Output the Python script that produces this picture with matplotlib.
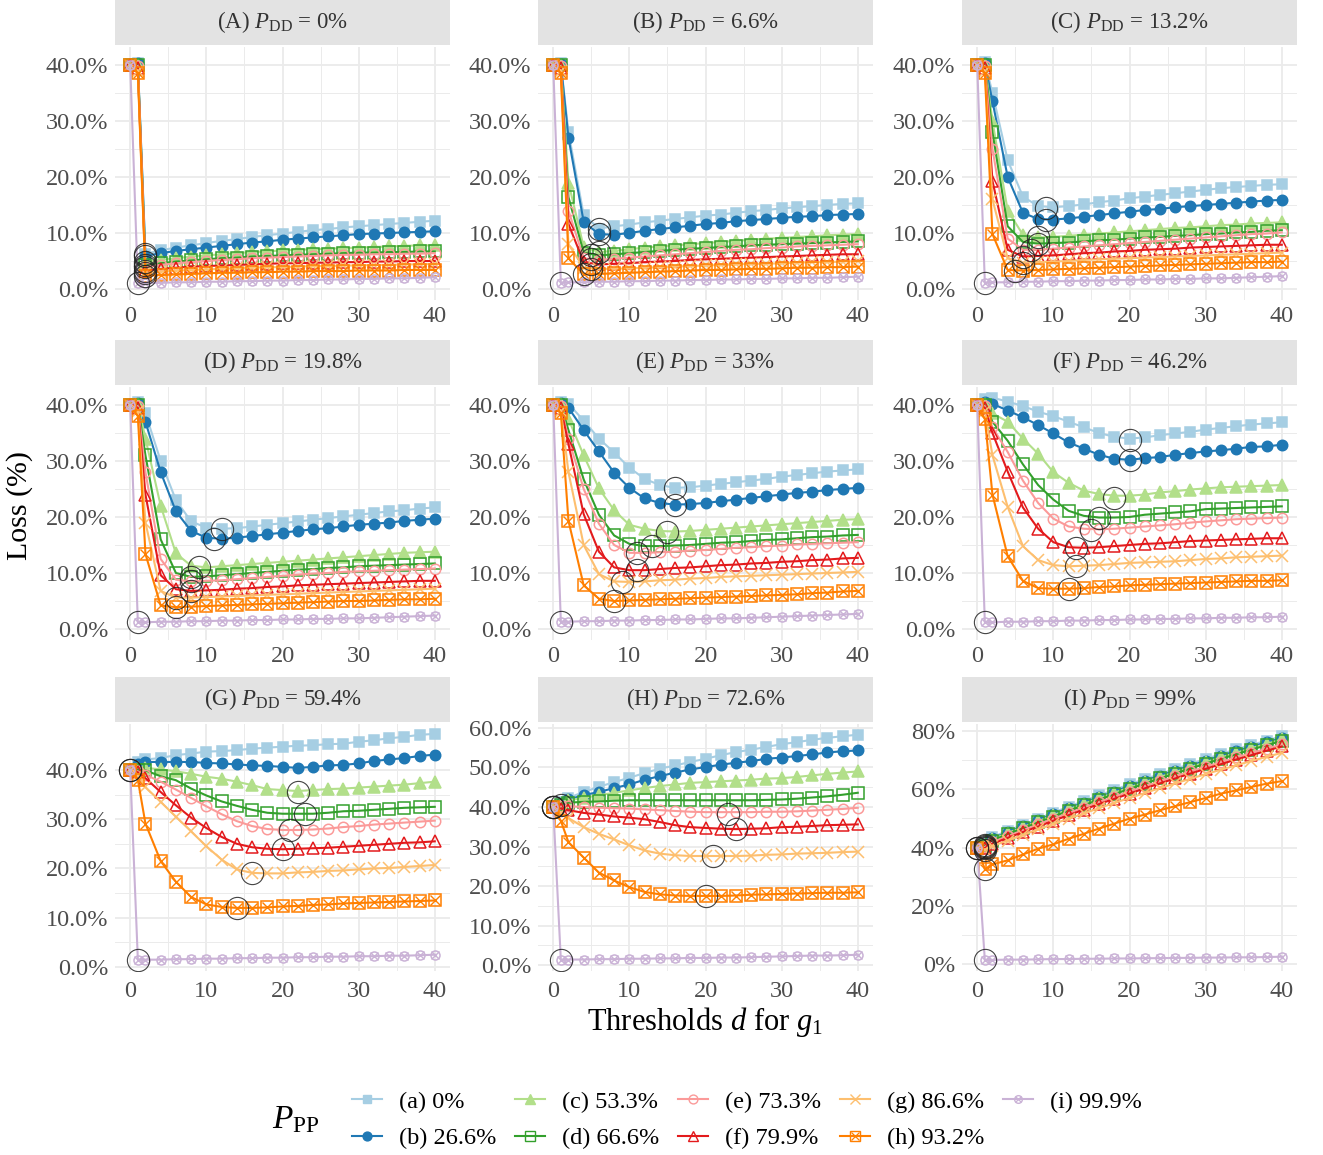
import numpy as np
import matplotlib
matplotlib.use('Agg')
import matplotlib.pyplot as plt
from matplotlib.lines import Line2D
from matplotlib.legend_handler import HandlerTuple

plt.rcParams['font.family'] = 'Liberation Serif'
plt.rcParams['mathtext.fontset'] = 'custom'
plt.rcParams['mathtext.rm'] = 'Liberation Serif'
plt.rcParams['mathtext.it'] = 'Liberation Serif:italic'

# thresholds d where the loss is reported
d_grid = [0, 1, 2, 4, 6, 8, 10, 12, 14, 16, 18, 20, 22, 24, 26, 28, 30, 32, 34, 36, 38, 40]

panel_tags = ['(A)', '(B)', '(C)', '(D)', '(E)', '(F)', '(G)', '(H)', '(I)']
pdd_values = ['0%', '6.6%', '13.2%', '19.8%', '33%', '46.2%', '59.4%', '72.6%', '99%']
ppp_labels = ['(a) 0%', '(b) 26.6%', '(c) 53.3%', '(d) 66.6%', '(e) 73.3%',
              '(f) 79.9%', '(g) 86.6%', '(h) 93.2%', '(i) 99.9%']

# loss (%) per P_PP series (a..i), one block per P_DD panel
loss_A = [
    [40, 40.3, 6.3, 6.9, 7.4, 7.8, 8.2, 8.6, 8.9, 9.3, 9.6, 9.9, 10.2, 10.5, 10.7, 11.0, 11.2, 11.4, 11.6, 11.8, 12.0, 12.2],
    [40, 40.3, 5.9, 6.4, 6.8, 7.1, 7.4, 7.7, 8.0, 8.3, 8.5, 8.8, 9.0, 9.2, 9.4, 9.6, 9.8, 9.9, 10.0, 10.1, 10.2, 10.3],
    [40, 40.0, 4.8, 5.2, 5.5, 5.8, 6.0, 6.2, 6.4, 6.6, 6.7, 6.9, 7.0, 7.1, 7.2, 7.3, 7.4, 7.5, 7.6, 7.7, 7.8, 7.8],
    [40, 40.0, 4.2, 4.6, 4.9, 5.1, 5.3, 5.5, 5.6, 5.8, 5.9, 6.0, 6.1, 6.2, 6.3, 6.4, 6.5, 6.5, 6.6, 6.6, 6.7, 6.7],
    [40, 39.8, 3.9, 4.3, 4.6, 4.8, 5.0, 5.2, 5.3, 5.5, 5.6, 5.7, 5.8, 5.9, 6.0, 6.1, 6.1, 6.2, 6.2, 6.3, 6.3, 6.4],
    [40, 39.5, 3.3, 3.6, 3.8, 4.0, 4.1, 4.2, 4.3, 4.4, 4.5, 4.6, 4.6, 4.7, 4.7, 4.8, 4.8, 4.9, 4.9, 5.0, 5.0, 5.0],
    [40, 39.0, 2.9, 3.1, 3.3, 3.4, 3.5, 3.6, 3.7, 3.8, 3.9, 3.9, 4.0, 4.1, 4.1, 4.2, 4.2, 4.3, 4.3, 4.4, 4.4, 4.5],
    [40, 38.5, 2.4, 2.5, 2.6, 2.7, 2.8, 2.9, 2.9, 3.0, 3.0, 3.1, 3.1, 3.2, 3.2, 3.2, 3.3, 3.3, 3.3, 3.4, 3.4, 3.4],
    [40, 1.0, 1.1, 1.1, 1.2, 1.2, 1.3, 1.3, 1.4, 1.4, 1.5, 1.5, 1.6, 1.6, 1.7, 1.7, 1.8, 1.8, 1.9, 1.9, 2.0, 2.1],
]
loss_B = [
    [40, 40.3, 28.0, 13.2, 10.8, 11.2, 11.5, 11.9, 12.2, 12.5, 12.8, 13.1, 13.3, 13.6, 13.9, 14.1, 14.4, 14.6, 14.8, 15.0, 15.2, 15.3],
    [40, 40.2, 27.0, 12.0, 9.8, 9.7, 10.0, 10.4, 10.7, 11.0, 11.3, 11.6, 11.8, 12.1, 12.3, 12.5, 12.7, 12.9, 13.0, 13.2, 13.3, 13.4],
    [40, 40.0, 19.0, 7.5, 6.6, 6.8, 7.1, 7.4, 7.6, 7.8, 8.0, 8.2, 8.4, 8.6, 8.8, 9.0, 9.1, 9.3, 9.4, 9.6, 9.7, 9.8],
    [40, 40.0, 16.4, 6.5, 6.0, 6.2, 6.4, 6.6, 6.8, 7.0, 7.2, 7.3, 7.5, 7.6, 7.8, 7.9, 8.0, 8.1, 8.2, 8.3, 8.4, 8.5],
    [40, 39.8, 14.0, 5.5, 5.2, 5.4, 5.6, 5.8, 6.0, 6.2, 6.4, 6.6, 6.8, 7.0, 7.1, 7.3, 7.4, 7.6, 7.7, 7.8, 7.9, 8.0],
    [40, 39.5, 11.6, 4.8, 4.4, 4.5, 4.6, 4.8, 4.9, 5.0, 5.2, 5.3, 5.4, 5.5, 5.6, 5.7, 5.8, 5.9, 6.0, 6.1, 6.2, 6.2],
    [40, 39.0, 8.0, 3.8, 3.6, 3.6, 3.7, 3.8, 3.9, 4.0, 4.1, 4.2, 4.3, 4.4, 4.5, 4.5, 4.6, 4.7, 4.8, 4.8, 4.9, 5.0],
    [40, 38.5, 5.5, 2.6, 2.7, 2.8, 2.9, 3.0, 3.1, 3.2, 3.3, 3.4, 3.4, 3.5, 3.6, 3.6, 3.7, 3.8, 3.8, 3.9, 3.9, 4.0],
    [40, 1.1, 1.2, 1.2, 1.3, 1.3, 1.4, 1.4, 1.5, 1.5, 1.6, 1.6, 1.7, 1.7, 1.8, 1.8, 1.9, 1.9, 2.0, 2.0, 2.1, 2.2],
]
loss_C = [
    [40, 40.5, 35.0, 23.0, 16.5, 14.8, 14.6, 14.8, 15.1, 15.5, 15.8, 16.2, 16.5, 16.8, 17.1, 17.4, 17.7, 18.0, 18.2, 18.4, 18.6, 18.7],
    [40, 40.3, 33.5, 20.0, 13.6, 12.5, 12.4, 12.6, 12.9, 13.2, 13.5, 13.8, 14.1, 14.3, 14.6, 14.8, 15.0, 15.2, 15.4, 15.6, 15.8, 15.9],
    [40, 40.0, 30.0, 14.0, 9.7, 9.2, 9.3, 9.5, 9.7, 9.9, 10.1, 10.3, 10.5, 10.7, 10.9, 11.0, 11.2, 11.4, 11.5, 11.7, 11.8, 11.9],
    [40, 40.0, 28.0, 11.2, 8.4, 8.1, 8.2, 8.3, 8.5, 8.7, 8.8, 9.0, 9.2, 9.3, 9.5, 9.6, 9.8, 9.9, 10.1, 10.2, 10.4, 10.5],
    [40, 39.8, 25.0, 9.0, 7.0, 7.0, 7.2, 7.4, 7.6, 7.8, 8.0, 8.2, 8.4, 8.6, 8.8, 9.0, 9.2, 9.4, 9.6, 9.8, 9.9, 10.1],
    [40, 39.5, 19.3, 7.0, 5.8, 5.9, 6.0, 6.2, 6.4, 6.5, 6.7, 6.8, 7.0, 7.1, 7.2, 7.4, 7.5, 7.6, 7.7, 7.8, 7.9, 7.9],
    [40, 39.0, 16.0, 5.5, 4.7, 4.8, 4.9, 5.0, 5.2, 5.3, 5.4, 5.5, 5.6, 5.7, 5.8, 5.9, 6.0, 6.1, 6.2, 6.3, 6.4, 6.5],
    [40, 38.5, 9.8, 3.4, 3.3, 3.4, 3.5, 3.6, 3.7, 3.8, 3.9, 4.0, 4.1, 4.2, 4.3, 4.4, 4.5, 4.6, 4.7, 4.8, 4.8, 4.9],
    [40, 1.1, 1.2, 1.2, 1.3, 1.3, 1.4, 1.4, 1.5, 1.5, 1.6, 1.6, 1.7, 1.7, 1.8, 1.8, 1.9, 1.9, 2.0, 2.1, 2.2, 2.3],
]
loss_D = [
    [40, 40.5, 38.5, 30.0, 23.0, 19.2, 18.1, 17.9, 18.0, 18.3, 18.6, 18.9, 19.2, 19.5, 19.8, 20.1, 20.4, 20.7, 21.0, 21.2, 21.5, 21.7],
    [40, 40.4, 37.0, 28.0, 21.0, 17.5, 16.3, 16.1, 16.3, 16.6, 16.9, 17.2, 17.5, 17.8, 18.0, 18.3, 18.6, 18.8, 19.0, 19.3, 19.5, 19.7],
    [40, 40.2, 34.0, 22.0, 13.5, 11.3, 11.0, 11.2, 11.4, 11.6, 11.8, 12.0, 12.2, 12.4, 12.6, 12.8, 13.0, 13.2, 13.4, 13.6, 13.7, 13.8],
    [40, 40.0, 31.0, 16.0, 10.0, 9.3, 9.4, 9.6, 9.8, 10.0, 10.2, 10.4, 10.6, 10.7, 10.9, 11.0, 11.2, 11.3, 11.4, 11.5, 11.6, 11.7],
    [40, 39.8, 28.0, 12.5, 8.8, 8.5, 8.6, 8.7, 8.9, 9.1, 9.3, 9.5, 9.7, 9.9, 10.0, 10.2, 10.3, 10.4, 10.5, 10.6, 10.7, 10.8],
    [40, 39.5, 24.0, 9.6, 7.1, 6.8, 6.9, 7.0, 7.2, 7.3, 7.5, 7.6, 7.8, 7.9, 8.0, 8.1, 8.2, 8.3, 8.4, 8.5, 8.6, 8.6],
    [40, 39.0, 19.0, 6.8, 5.6, 5.6, 5.7, 5.8, 5.9, 6.0, 6.1, 6.2, 6.3, 6.4, 6.5, 6.6, 6.7, 6.8, 6.9, 7.0, 7.1, 7.2],
    [40, 38.0, 13.4, 4.2, 3.9, 4.0, 4.1, 4.2, 4.3, 4.4, 4.5, 4.6, 4.7, 4.8, 4.9, 5.0, 5.0, 5.1, 5.2, 5.3, 5.3, 5.4],
    [40, 1.2, 1.2, 1.3, 1.3, 1.4, 1.4, 1.5, 1.5, 1.6, 1.6, 1.7, 1.7, 1.8, 1.8, 1.9, 1.9, 2.0, 2.1, 2.2, 2.3, 2.4],
]
loss_E = [
    [40, 40.5, 40.2, 37.2, 34.0, 31.5, 28.8, 26.8, 25.7, 25.2, 25.3, 25.6, 25.9, 26.2, 26.5, 26.8, 27.2, 27.5, 27.8, 28.1, 28.3, 28.5],
    [40, 40.4, 39.5, 35.5, 31.7, 27.9, 25.2, 23.3, 22.5, 22.2, 22.3, 22.5, 22.8, 23.1, 23.4, 23.7, 24.0, 24.3, 24.5, 24.8, 25.0, 25.2],
    [40, 40.2, 37.5, 31.0, 25.1, 21.2, 18.6, 17.9, 17.5, 17.4, 17.5, 17.7, 17.9, 18.1, 18.3, 18.5, 18.7, 18.9, 19.1, 19.3, 19.5, 19.6],
    [40, 40.0, 35.5, 26.7, 20.4, 16.7, 15.2, 14.8, 14.8, 14.9, 15.0, 15.2, 15.4, 15.5, 15.7, 15.9, 16.0, 16.2, 16.4, 16.5, 16.7, 16.8],
    [40, 39.8, 34.0, 25.0, 18.8, 15.0, 13.6, 13.6, 13.7, 13.8, 14.0, 14.1, 14.3, 14.5, 14.6, 14.8, 14.9, 15.1, 15.2, 15.3, 15.4, 15.5],
    [40, 39.5, 33.0, 20.5, 13.8, 11.0, 10.5, 10.5, 10.7, 10.9, 11.0, 11.2, 11.4, 11.5, 11.7, 11.8, 12.0, 12.1, 12.3, 12.4, 12.6, 12.7],
    [40, 39.0, 28.0, 15.0, 9.8, 8.5, 8.4, 8.5, 8.7, 8.8, 9.0, 9.1, 9.3, 9.4, 9.5, 9.6, 9.7, 9.8, 9.9, 10.0, 10.1, 10.2],
    [40, 38.5, 19.3, 7.8, 5.4, 5.0, 5.1, 5.2, 5.3, 5.4, 5.5, 5.6, 5.7, 5.8, 5.9, 6.0, 6.1, 6.2, 6.4, 6.5, 6.7, 6.8],
    [40, 1.3, 1.3, 1.4, 1.4, 1.5, 1.5, 1.6, 1.6, 1.7, 1.7, 1.8, 1.9, 1.9, 2.0, 2.1, 2.2, 2.3, 2.4, 2.5, 2.6, 2.7],
]
loss_F = [
    [40, 41.0, 41.3, 40.6, 39.8, 38.8, 38.0, 37.0, 36.0, 35.0, 34.3, 34.0, 34.2, 34.6, 34.9, 35.2, 35.6, 35.9, 36.2, 36.5, 36.7, 36.9],
    [40, 40.5, 40.2, 39.0, 37.8, 36.4, 34.9, 33.3, 32.2, 31.1, 30.4, 30.2, 30.5, 30.7, 31.1, 31.4, 31.7, 31.9, 32.2, 32.5, 32.6, 32.9],
    [40, 40.2, 38.5, 37.0, 34.0, 31.3, 28.0, 26.1, 24.7, 24.1, 23.8, 23.8, 24.0, 24.4, 24.6, 24.9, 25.1, 25.3, 25.4, 25.5, 25.6, 25.7],
    [40, 40.0, 37.0, 33.6, 29.4, 25.7, 23.1, 21.1, 20.2, 19.9, 19.9, 20.0, 20.4, 20.6, 20.8, 21.0, 21.4, 21.5, 21.6, 21.7, 21.8, 21.9],
    [40, 39.8, 36.0, 31.6, 26.5, 22.5, 19.7, 18.3, 17.9, 17.8, 17.9, 18.1, 18.3, 18.5, 18.7, 19.0, 19.2, 19.4, 19.6, 19.7, 19.8, 19.9],
    [40, 39.5, 35.0, 28.1, 21.7, 17.9, 15.5, 14.6, 14.5, 14.6, 14.8, 15.0, 15.2, 15.3, 15.5, 15.7, 15.8, 15.9, 16.0, 16.1, 16.2, 16.2],
    [40, 39.0, 31.0, 21.8, 14.8, 12.3, 11.4, 11.2, 11.3, 11.4, 11.6, 11.8, 11.9, 12.0, 12.1, 12.3, 12.5, 12.6, 12.8, 12.9, 13.0, 13.1],
    [40, 37.5, 24.0, 13.0, 8.6, 7.3, 7.2, 7.2, 7.3, 7.5, 7.6, 7.8, 7.9, 8.0, 8.1, 8.2, 8.3, 8.4, 8.5, 8.6, 8.6, 8.7],
    [40, 1.2, 1.2, 1.3, 1.3, 1.4, 1.4, 1.5, 1.5, 1.6, 1.6, 1.7, 1.7, 1.8, 1.8, 1.9, 1.9, 2.0, 2.0, 2.1, 2.1, 2.2],
]
loss_G = [
    [40, 41.5, 42.1, 42.4, 43.0, 43.3, 43.7, 43.8, 44.0, 44.3, 44.5, 44.7, 44.9, 45.0, 45.2, 45.3, 45.7, 46.0, 46.4, 46.7, 47.1, 47.3],
    [40, 41.2, 41.6, 41.6, 41.6, 41.6, 41.4, 41.3, 41.1, 40.9, 40.8, 40.6, 40.4, 40.6, 40.9, 41.0, 41.3, 41.8, 42.1, 42.4, 42.8, 43.1],
    [40, 40.3, 40.4, 40.1, 39.7, 39.2, 38.6, 38.2, 37.6, 36.9, 36.1, 35.9, 35.7, 35.9, 36.1, 36.2, 36.4, 36.6, 36.8, 37.0, 37.3, 37.6],
    [40, 40.0, 39.9, 38.7, 37.9, 36.2, 34.8, 33.6, 32.7, 31.9, 31.3, 31.1, 31.1, 31.1, 31.3, 31.6, 31.7, 31.9, 32.1, 32.3, 32.4, 32.5],
    [40, 39.7, 39.0, 37.6, 36.0, 34.3, 32.6, 31.0, 29.6, 28.6, 28.0, 27.8, 27.8, 27.9, 28.1, 28.4, 28.6, 28.9, 29.1, 29.3, 29.5, 29.7],
    [40, 39.5, 38.3, 35.5, 32.8, 30.3, 28.2, 26.4, 25.0, 24.3, 24.0, 23.9, 24.0, 24.1, 24.2, 24.4, 24.6, 24.8, 25.0, 25.2, 25.3, 25.5],
    [40, 39.0, 36.5, 33.5, 30.5, 27.5, 24.5, 21.8, 19.8, 19.1, 19.0, 19.0, 19.2, 19.3, 19.5, 19.6, 19.8, 20.0, 20.1, 20.3, 20.5, 20.7],
    [40, 38.0, 29.1, 21.5, 17.3, 14.2, 12.7, 12.2, 12.0, 12.0, 12.1, 12.3, 12.4, 12.6, 12.7, 12.9, 13.0, 13.1, 13.2, 13.3, 13.4, 13.5],
    [40, 1.5, 1.5, 1.5, 1.6, 1.6, 1.7, 1.7, 1.8, 1.8, 1.9, 1.9, 2.0, 2.0, 2.1, 2.1, 2.2, 2.2, 2.3, 2.3, 2.4, 2.5],
]
loss_H = [
    [40, 41.2, 42.3, 43.8, 45.1, 46.3, 47.4, 48.6, 49.7, 50.5, 51.4, 52.2, 53.1, 53.9, 54.5, 55.2, 55.9, 56.4, 57.0, 57.5, 57.9, 58.3],
    [40, 41.0, 41.9, 43.0, 43.8, 44.8, 45.7, 46.9, 47.8, 48.7, 49.5, 50.1, 50.7, 51.2, 51.6, 52.2, 52.5, 52.9, 53.3, 53.8, 54.1, 54.3],
    [40, 40.8, 41.7, 42.3, 43.0, 43.6, 44.2, 44.8, 45.3, 45.7, 46.1, 46.3, 46.5, 46.7, 46.9, 47.2, 47.3, 47.6, 48.0, 48.4, 48.7, 49.0],
    [40, 40.5, 41.1, 41.3, 41.4, 41.6, 41.7, 41.7, 41.7, 41.7, 41.7, 41.7, 41.7, 41.7, 41.7, 41.8, 41.9, 42.1, 42.4, 42.7, 43.1, 43.6],
    [40, 40.2, 40.2, 40.0, 39.8, 39.7, 39.6, 39.4, 39.2, 39.0, 38.8, 38.7, 38.7, 38.7, 38.7, 38.8, 38.8, 38.9, 39.1, 39.3, 39.5, 39.8],
    [40, 39.6, 39.2, 38.5, 38.1, 37.6, 37.3, 36.9, 36.2, 35.4, 34.9, 34.7, 34.5, 34.4, 34.5, 34.6, 34.9, 35.0, 35.2, 35.4, 35.5, 35.6],
    [40, 38.5, 37.2, 34.9, 33.2, 31.8, 30.3, 29.0, 28.2, 27.8, 27.6, 27.6, 27.6, 27.6, 27.7, 27.9, 28.0, 28.2, 28.3, 28.4, 28.6, 28.7],
    [40, 36.5, 31.1, 27.2, 23.4, 21.4, 19.7, 18.5, 17.9, 17.6, 17.5, 17.5, 17.5, 17.6, 17.8, 17.9, 18.0, 18.1, 18.2, 18.3, 18.3, 18.4],
    [40, 1.3, 1.4, 1.4, 1.5, 1.5, 1.6, 1.6, 1.7, 1.7, 1.8, 1.8, 1.9, 1.9, 2.0, 2.1, 2.2, 2.3, 2.4, 2.4, 2.5, 2.6],
]
loss_I = [
    [40, 41.5, 43.5, 45.8, 47.8, 49.9, 52.0, 54.0, 56.0, 57.9, 59.8, 61.7, 63.5, 65.2, 67.0, 68.7, 70.4, 72.1, 73.7, 75.2, 76.7, 78.2],
    [40, 41.2, 43.1, 45.3, 47.3, 49.4, 51.5, 53.5, 55.4, 57.3, 59.2, 61.1, 62.9, 64.7, 66.4, 68.1, 69.8, 71.5, 73.1, 74.6, 76.1, 77.6],
    [40, 40.8, 42.8, 45.0, 47.0, 49.0, 51.1, 53.1, 55.0, 56.9, 58.8, 60.6, 62.4, 64.2, 65.9, 67.6, 69.3, 70.9, 72.5, 74.1, 75.6, 77.1],
    [40, 40.5, 42.4, 44.6, 46.6, 48.6, 50.6, 52.6, 54.5, 56.4, 58.3, 60.1, 61.9, 63.7, 65.4, 67.1, 68.8, 70.4, 72.0, 73.6, 75.1, 76.6],
    [40, 40.2, 41.8, 43.9, 45.9, 47.9, 49.9, 51.8, 53.7, 55.6, 57.4, 59.2, 61.0, 62.7, 64.4, 66.1, 67.7, 69.3, 70.9, 72.4, 73.9, 75.4],
    [40, 39.8, 41.3, 43.3, 45.3, 47.2, 49.2, 51.1, 53.0, 54.9, 56.7, 58.5, 60.3, 62.0, 63.7, 65.4, 67.0, 68.6, 70.2, 71.7, 73.2, 74.7],
    [40, 39.3, 40.5, 42.4, 44.3, 46.2, 48.1, 49.9, 51.7, 53.5, 55.3, 57.0, 58.7, 60.4, 62.0, 63.6, 65.2, 66.7, 68.2, 69.7, 71.1, 72.5],
    [40, 32.5, 34.2, 35.6, 37.6, 39.6, 41.1, 43.0, 44.7, 46.5, 48.2, 49.9, 51.3, 52.8, 54.2, 55.6, 57.0, 58.5, 59.6, 60.8, 61.9, 62.8],
    [40, 1.3, 1.4, 1.5, 1.5, 1.6, 1.7, 1.7, 1.8, 1.8, 1.9, 1.9, 2.0, 2.0, 2.1, 2.1, 2.2, 2.2, 2.3, 2.3, 2.4, 2.5],
]

# optimal threshold (d, loss) for each series, circled in the plots
best_A = [(2, 6.3), (2, 5.9), (2, 4.8), (2, 4.2), (2, 3.9), (2, 3.3), (2, 2.9), (2, 2.4), (1, 1.0)]
best_B = [(6, 10.8), (6, 9.8), (6, 6.6), (5, 6.1), (5, 5.3), (5, 4.5), (5, 3.6), (4, 2.6), (1, 1.1)]
best_C = [(9, 14.5), (9, 12.4), (8, 9.2), (8, 8.1), (7, 7.0), (6, 5.8), (6, 4.7), (5, 3.3), (1, 1.1)]
best_D = [(12, 17.9), (11, 16.1), (9, 11.1), (8, 9.3), (8, 8.5), (8, 6.8), (6, 5.6), (6, 3.9), (1, 1.2)]
best_E = [(16, 25.2), (16, 22.2), (15, 17.4), (13, 14.8), (11, 13.6), (11, 10.5), (9, 8.4), (8, 5.0), (1, 1.3)]
best_F = [(20, 33.8), (20, 30.2), (18, 23.4), (16, 19.8), (15, 17.6), (13, 14.4), (13, 11.2), (12, 7.2), (1, 1.2)]
best_G = [(0, 40), (0, 40), (22, 35.5), (23, 31.1), (21, 27.8), (20, 23.9), (16, 19.1), (14, 12.0), (1, 1.5)]
best_H = [(0, 40), (0, 40), (0, 40), (1, 40.5), (23, 38.3), (24, 34.4), (21, 27.6), (20, 17.5), (1, 1.3)]
best_I = [(0, 40), (0, 40), (1, 40.8), (1, 40.5), (1, 40.2), (1, 39.8), (1, 39.3), (1, 32.5), (1, 1.3)]

y_ticks = [[0, 10, 20, 30, 40]] * 7 + [[0, 10, 20, 30, 40, 50, 60], [0, 20, 40, 60, 80]]
y_fmt = ['{:.1f}%'] * 8 + ['{:.0f}%']
y_lims = [(-1.96, 43.2)] * 6 + [(-0.8, 49.3), (-1.5, 61.0), (-2.4, 82.4)]

all_loss = [loss_A, loss_B, loss_C, loss_D, loss_E, loss_F, loss_G, loss_H, loss_I]
all_best = [best_A, best_B, best_C, best_D, best_E, best_F, best_G, best_H, best_I]

colors = ['#A6CEE3', '#1F78B4', '#B2DF8A', '#33A02C', '#FB9A99',
          '#E31A1C', '#FDBF6F', '#FF7F00', '#CAB2D6']
# (marker, filled, size, overlay marker)
styles = [('s', True, 7.5, None), ('o', True, 7.5, None), ('^', True, 8, None),
          ('s', False, 8.5, None), ('o', False, 7.5, None), ('^', False, 9, None),
          ('x', True, 8.5, None), ('s', False, 8.5, 'x'), ('o', False, 6.5, 'x')]

W, H = 1323, 1155
fig = plt.figure(figsize=(W / 100, H / 100), dpi=100)

def fig_rect(x, y, w, h):
    return [x / W, 1 - (y + h) / H, w / W, h / H]

cols_x = [115, 538, 962]
rows_y = [0, 340, 677]
ax_hs = [253, 253, 247]
pw, strip_h = 335, 45
tick_col = '#4D4D4D'
grid_col = '#EBEBEB'

for k in range(9):
    r, c = divmod(k, 3)
    x0, y0 = cols_x[c], rows_y[r]

    # strip with the panel title
    sax = fig.add_axes(fig_rect(x0, y0, pw, strip_h))
    sax.set_facecolor('#E3E3E3')
    sax.set_xticks([]); sax.set_yticks([])
    for s in sax.spines.values():
        s.set_visible(False)
    sax.text(0.5, 0.5, panel_tags[k] + r' $P_{\mathrm{DD}}$ = ' + pdd_values[k],
             ha='center', va='center', fontsize=16.5, color='#333333', transform=sax.transAxes)

    ax = fig.add_axes(fig_rect(x0, y0 + strip_h + 2, pw, ax_hs[r]))
    ax.set_facecolor('white')
    loss = all_loss[k]
    for j in range(9):
        m, filled, ms, extra = styles[j]
        col = colors[j]
        ax.plot(d_grid, loss[j], '-', color=col, lw=1.5, zorder=2 + j * 0.1)
        ax.plot(d_grid, loss[j], linestyle='none', marker=m, ms=ms, color=col,
                mfc=col if filled else 'none', mec=col, mew=1.1, zorder=2 + j * 0.1)
        if extra:
            ax.plot(d_grid, loss[j], linestyle='none', marker=extra, ms=ms * 0.8,
                    color=col, mew=1.0, zorder=2 + j * 0.1)
    for (bd, bl) in all_best[k]:
        ax.plot(bd, bl, 'o', ms=16, mfc='none', mec='#222222', mew=0.8, alpha=0.85, zorder=5)

    ax.set_ylim(*y_lims[k])
    ax.set_xlim(-2, 42)
    ax.set_xticks([0, 10, 20, 30, 40])
    ax.set_xticks([5, 15, 25, 35], minor=True)
    yt = y_ticks[k]
    ax.set_yticks(yt)
    ax.set_yticks([(a + b) / 2 for a, b in zip(yt[:-1], yt[1:])], minor=True)
    ax.set_yticklabels([y_fmt[k].format(v) for v in yt])
    ax.grid(which='major', color=grid_col, lw=1.3)
    ax.grid(which='minor', color=grid_col, lw=0.7)
    ax.set_axisbelow(True)
    ax.tick_params(which='both', length=0, labelsize=17.5, labelcolor=tick_col, pad=5)
    ax.tick_params(axis='x', pad=7 if r == 2 else 4)
    for s in ax.spines.values():
        s.set_visible(False)

fig.text(20 / W, 1 - 505 / H, 'Loss (%)', rotation=90, ha='center', va='center', fontsize=21.5)
fig.text(705 / W, 1 - 1022 / H, r'Thresholds $d$ for $g_1$', ha='center', va='center', fontsize=22)

# legend
handles = []
for j in range(9):
    m, filled, ms, extra = styles[j]
    col = colors[j]
    h1 = Line2D([], [], color=col, lw=1.5, marker=m, ms=ms * 0.85,
                mfc=col if filled else 'none', mec=col, mew=1.0)
    if extra:
        h2 = Line2D([], [], linestyle='none', marker=extra, ms=ms * 0.7, color=col, mew=0.9)
        handles.append((h1, h2))
    else:
        handles.append(h1)
fig.legend(handles, ppp_labels, ncol=5, loc='center left', bbox_to_anchor=(330 / W, 1 - 1120 / H),
           frameon=False, fontsize=17.5, handlelength=1.25, columnspacing=0.75, handletextpad=0.7,
           labelspacing=0.6, handler_map={tuple: HandlerTuple(ndivide=1)})
fig.text(296 / W, 1 - 1120 / H, r'$P_{\mathrm{PP}}$', ha='center', va='center', fontsize=24)

fig.savefig('out.png', dpi=100)
